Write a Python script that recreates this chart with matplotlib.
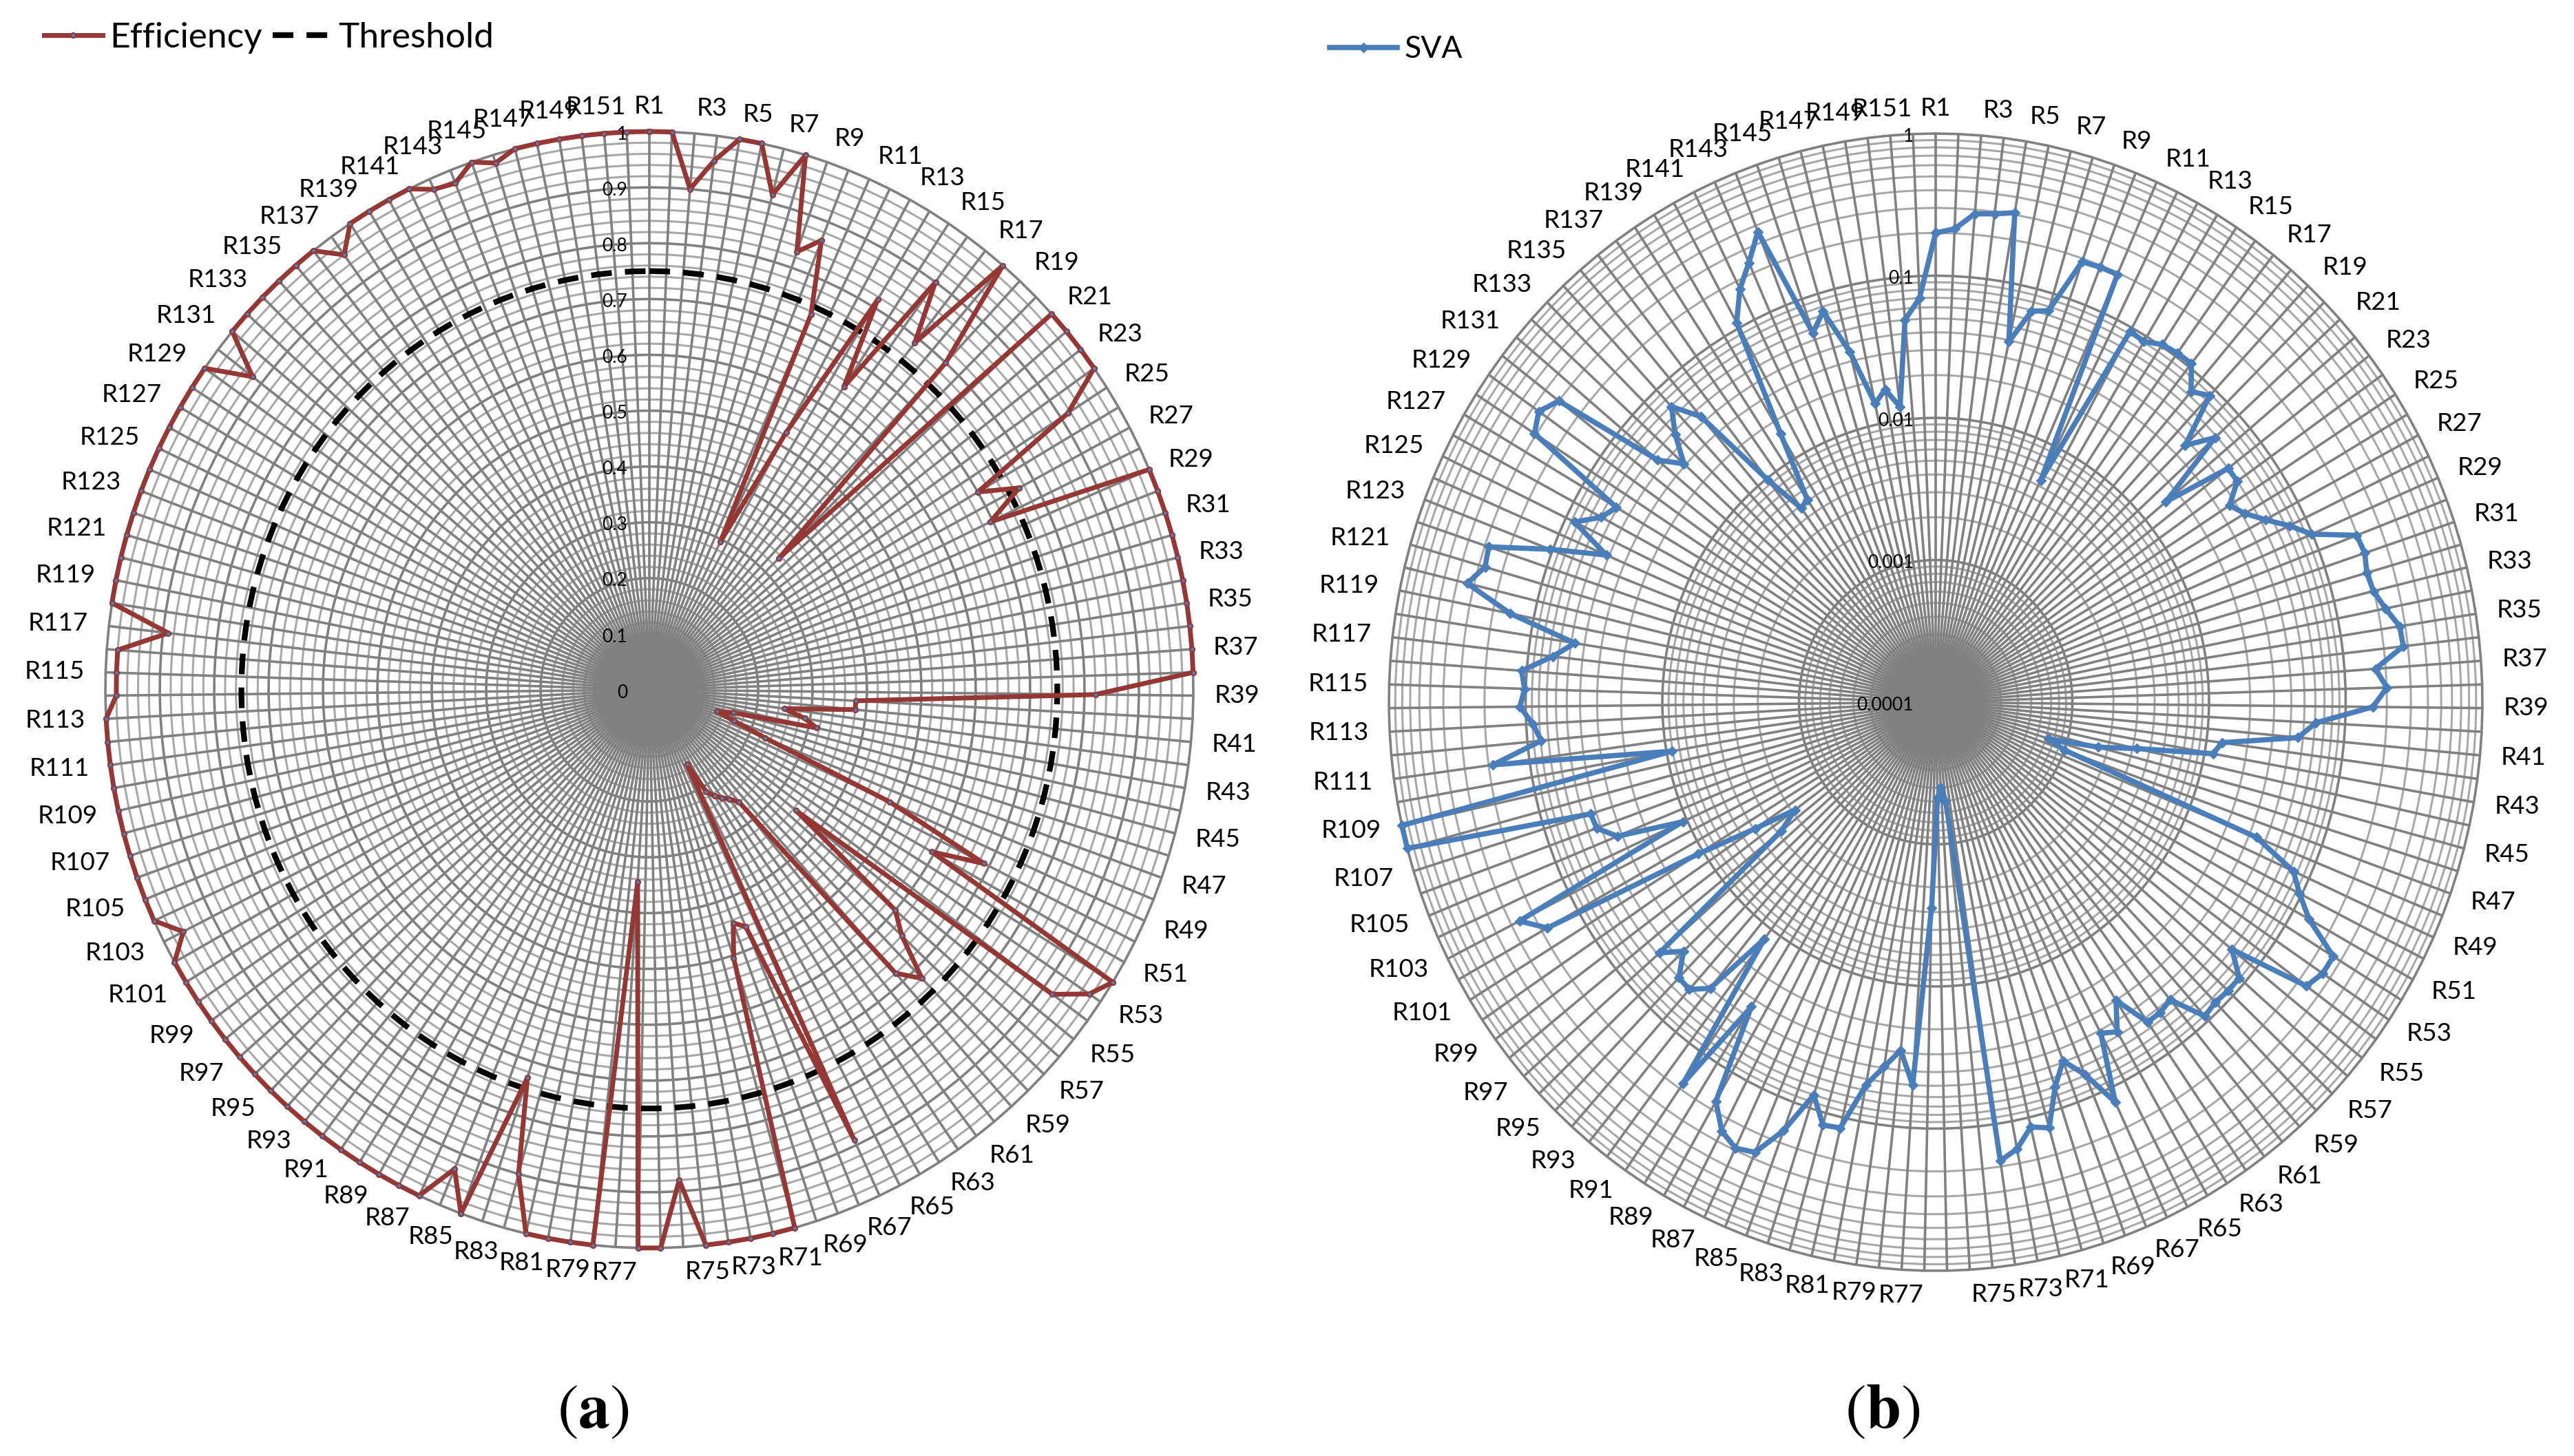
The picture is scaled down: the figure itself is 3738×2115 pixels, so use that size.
import numpy as np
import matplotlib
matplotlib.use("Agg")
import matplotlib.pyplot as plt
from matplotlib.lines import Line2D
from matplotlib.ticker import NullLocator

plt.rcParams["font.family"] = ["Lato", "DejaVu Sans"]
plt.rcParams["mathtext.fontset"] = "stix"

# --- data -------------------------------------------------------------
categories = [f"R{i}" for i in range(1, 152)]

efficiency = [
    1.0, 1.0, 0.90, 0.955, 1.0, 1.0, 0.915, 1.0, 0.83, 0.865,        # R1-R10
    0.735, 0.295, 0.525, 0.815, 0.65, 0.90, 0.79, 1.0, 0.80, 0.335,   # R11-R20
    1.0, 1.0, 1.0, 1.0, 0.915, 0.70, 0.77, 0.695, 1.0, 1.0,           # R21-R30
    1.0, 1.0, 1.0, 1.0, 1.0, 1.0, 1.0, 1.0, 0.82, 0.38,               # R31-R40
    0.38, 0.25, 0.29, 0.315, 0.16, 0.13, 0.165, 0.23, 0.485, 0.69,    # R41-R50
    0.595, 1.0, 0.975, 0.92, 0.345, 0.60, 0.64, 0.72, 0.68, 0.26,     # R51-R60
    0.245, 0.235, 0.225, 0.21, 0.15, 0.89, 0.46, 0.445, 0.505, 1.0,   # R61-R70
    1.0, 1.0, 1.0, 1.0, 0.88, 1.0, 1.0, 0.345, 1.0, 1.0,              # R71-R80
    1.0, 1.0, 0.90, 0.73, 1.0, 0.93, 1.0, 1.0, 1.0, 1.0,              # R81-R90
    1.0, 1.0, 1.0, 1.0, 1.0, 1.0, 1.0, 1.0, 1.0, 1.0,                 # R91-R100
    1.0, 1.0, 0.96, 1.0, 1.0, 1.0, 1.0, 1.0, 1.0, 1.0,                # R101-R110
    1.0, 1.0, 1.0, 0.98, 0.98, 0.98, 0.89, 1.0, 1.0, 1.0,             # R111-R120
    1.0, 1.0, 1.0, 1.0, 1.0, 1.0, 1.0, 1.0, 1.0, 0.92,                # R121-R130
    1.0, 1.0, 1.0, 1.0, 1.0, 1.0, 0.96, 1.0, 1.0, 1.0,                # R131-R140
    1.0, 0.98, 0.975, 1.0, 0.985, 1.0, 1.0, 1.0, 1.0, 1.0,            # R141-R150
    1.0,                                                              # R151
]
threshold = 0.75

sva = [
    0.20, 0.215, 0.28, 0.29, 0.31, 0.039, 0.069, 0.075, 0.19, 0.194,
    0.195, 0.0055, 0.094, 0.091, 0.103, 0.106, 0.107, 0.075, 0.088, 0.037,
    0.058, 0.0157, 0.050, 0.050, 0.036, 0.042, 0.054, 0.074, 0.099, 0.198,
    0.204, 0.192, 0.198, 0.227, 0.273, 0.278, 0.168, 0.201, 0.158, 0.061,
    0.046, 0.013, 0.0115, 0.0032, 0.0017, 0.00073, 0.001, 0.034, 0.075, 0.096,
    0.135, 0.26, 0.26, 0.233, 0.060, 0.089, 0.089, 0.087, 0.091, 0.051,
    0.054, 0.054, 0.030, 0.047, 0.042, 0.127, 0.069, 0.049, 0.070, 0.128,
    0.117, 0.158, 0.182, 0.0005, 0.0004, 0.00047, 0.0028, 0.050, 0.029, 0.039,
    0.055, 0.119, 0.122, 0.080, 0.163, 0.27, 0.29, 0.25, 0.172, 0.034,
    0.18, 0.0121, 0.040, 0.051, 0.050, 0.035, 0.048, 0.0028, 0.0019, 0.0039,
    0.0109, 0.18, 0.258, 0.0108, 0.0325, 0.043, 0.044, 1.0, 1.0, 0.0091,
    0.185, 0.079, 0.0895, 0.11, 0.102, 0.109, 0.066, 0.047, 0.149, 0.337,
    0.27, 0.28, 0.105, 0.042, 0.085, 0.059, 0.051, 0.31, 0.356, 0.30,
    0.045, 0.031, 0.048, 0.069, 0.044, 0.0097, 0.0048, 0.0051, 0.016, 0.11,
    0.174, 0.24, 0.36, 0.056, 0.074, 0.035, 0.014, 0.017, 0.0124, 0.050,
    0.070,
]

eff_ticks = [0, 0.1, 0.2, 0.3, 0.4, 0.5, 0.6, 0.7, 0.8, 0.9, 1]
sva_ticks = [0.0001, 0.001, 0.01, 0.1, 1]

RED = "#953735"
DOT = "#4F81BD"
BLUE = "#4A7EBB"
SPOKE = "#808080"
MINOR = "#A8A8A8"

W, H = 3738, 2115
fig = plt.figure(figsize=(W / 100, H / 100), dpi=100)


def box(cx, cy, rx, ry):
    return [(cx - rx) / W, 1 - (cy + ry) / H, 2 * rx / W, 2 * ry / H]


n = len(categories)
theta = np.arange(n) * 2 * np.pi / n
th_closed = np.append(theta, theta[0])


def setup(ax):
    ax.set_theta_zero_location("N")
    ax.set_theta_direction(-1)
    ax.set_aspect("auto")
    ax.grid(False)
    for axis in (ax.xaxis, ax.yaxis):
        axis.set_major_locator(NullLocator())
        axis.set_minor_locator(NullLocator())
    ax.spines["polar"].set_visible(False)
    ax.set_facecolor("none")


def rings(ax, major, minor, rmin):
    for r in minor:
        ax.plot(th_closed, np.full(n + 1, r), color=MINOR, lw=2.2, zorder=1)
    ax.vlines(theta, rmin, 1, colors=SPOKE, lw=2.6, zorder=1)
    for r in major:
        ax.plot(th_closed, np.full(n + 1, r), color=SPOKE, lw=2.6, zorder=1.5,
                clip_on=False)


def cat_labels(ax, rmax):
    for i in range(0, n, 2):
        s, c = np.sin(theta[i]), np.cos(theta[i])
        ha = "left" if s > 1e-9 else ("right" if s < -1e-9 else "center")
        ax.annotate(categories[i], xy=(theta[i], rmax), xytext=(22 * s, 26 * c),
                    textcoords="offset points", ha=ha, va="center",
                    fontsize=26.5, annotation_clip=False)


def value_labels(ax, ticks):
    for v in ticks:
        ax.annotate(f"{v:g}" if v >= 0.001 or v == 0 else "0.0001", xy=(0, v),
                    xytext=(-23, -3), textcoords="offset points",
                    ha="right", va="center", fontsize=19, zorder=6,
                    annotation_clip=False)


# (a) efficiency radar
ax1 = fig.add_axes(box(943, 1002, 790, 811), projection="polar")
setup(ax1)
ax1.set_ylim(0, 1)
minor1 = [r for r in np.arange(1, 50) * 0.02 if abs(r * 10 - round(r * 10)) > 1e-6]
rings(ax1, eff_ticks[1:], minor1, 0)
ax1.plot(th_closed, np.full(n + 1, threshold), color="black", lw=6,
         ls=(0, (3.6, 2.3)), zorder=3)
ax1.plot(th_closed, np.append(efficiency, efficiency[0]), color=RED, lw=5,
         marker="o", ms=5, mfc=DOT, mec=RED, mew=1.6, clip_on=False, zorder=4)
cat_labels(ax1, 1)
value_labels(ax1, eff_ticks)

# (b) SVA radar, log scale
ax2 = fig.add_axes(box(2811, 1020, 794, 826), projection="polar")
setup(ax2)
ax2.set_rscale("log")
ax2.set_ylim(1e-4, 1)
setup(ax2)
minor2 = [m * 10.0 ** d for d in range(-4, 0) for m in range(2, 10)]
rings(ax2, sva_ticks[1:], minor2, 1e-4)
ax2.plot(th_closed, np.append(sva, sva[0]), color=BLUE, lw=5.5,
         marker="D", ms=7, mfc=BLUE, mec=BLUE, mew=1, clip_on=False, zorder=4)
cat_labels(ax2, 1)
value_labels(ax2, sva_ticks)

# legends
h_eff = Line2D([], [], color=RED, lw=5, marker="o", ms=5, mfc=DOT, mec=RED, mew=1.6)
h_thr = Line2D([], [], color="black", lw=6, ls=(0, (3.6, 2.3)))
fig.legend([h_eff, h_thr], ["Efficiency", "Threshold"], loc="center left",
           bbox_to_anchor=(64 / W, 1 - 55 / H), ncol=2, frameon=False,
           fontsize=37, handlelength=1.65, handletextpad=0.2, columnspacing=0.3,
           borderpad=0, borderaxespad=0)
h_sva = Line2D([], [], color=BLUE, lw=5.5, marker="D", ms=7, mfc=BLUE, mec=BLUE)
fig.legend([h_sva], ["SVA"], loc="center left",
           bbox_to_anchor=(1931 / W, 1 - 72 / H), frameon=False,
           fontsize=32, handlelength=2.2, handletextpad=0.25,
           borderpad=0, borderaxespad=0)

fig.text(861 / W, 1 - 2050 / H, r"$(\mathbf{a})$", fontsize=66, ha="center", va="center")
fig.text(2734 / W, 1 - 2050 / H, r"$(\mathbf{b})$", fontsize=66, ha="center", va="center")

fig.savefig("out.png", dpi=100, facecolor="white")
